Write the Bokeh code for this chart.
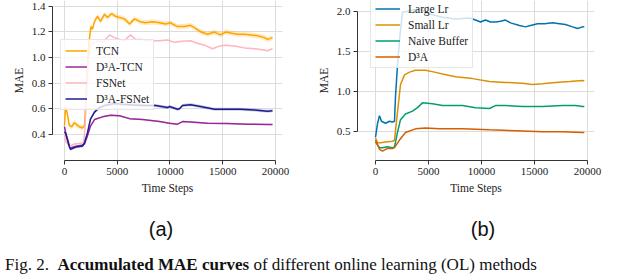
from bokeh.plotting import figure
from bokeh.layouts import column, row
from bokeh.models import Div, NumeralTickFormatter, FixedTicker
from bokeh.embed import file_html
from bokeh.resources import INLINE

# ---------------- data: panel (a) ----------------
tcn_x = [0, 100, 250, 450, 700, 900, 1100, 1400, 1700, 1900, 2100, 2300, 2500, 2654, 2844, 3128,
         3413, 3792, 4076, 4456, 4835, 5214, 5688, 6162, 6636, 7110, 7679, 8342, 9006, 9575, 10049,
         10238, 10712, 11376, 11945, 12419, 12893, 13556, 14220, 14789, 15263, 15737, 16400, 17064,
         17633, 18296, 18960, 19244, 19718]
tcn_y = [0.47, 0.61, 0.57, 0.47, 0.46, 0.49, 0.48, 0.46, 0.45, 0.47, 0.80, 1.10, 1.24, 1.22, 1.28,
         1.32, 1.28, 1.335, 1.31, 1.34, 1.32, 1.31, 1.30, 1.26, 1.30, 1.28, 1.27, 1.277, 1.27, 1.26,
         1.27, 1.26, 1.24, 1.24, 1.25, 1.226, 1.20, 1.18, 1.197, 1.175, 1.197, 1.19, 1.18, 1.18,
         1.175, 1.168, 1.154, 1.14, 1.154]
tcn_sd = 0.02

fsnet_x = [0, 150, 500, 760, 1040, 1420, 1800, 1950, 2100, 2300, 2500, 2844, 3318, 3602, 3887, 4266,
           4740, 5214, 5688, 5972, 6257, 6730, 7205, 8058, 9006, 9765, 10428, 11186, 11945, 12609,
           13272, 14030, 14694, 15263, 16116, 17064, 18012, 18770, 19244, 19718]
fsnet_y = [0.40, 0.34, 0.305, 0.32, 0.327, 0.33, 0.335, 0.45, 0.75, 1.00, 1.10, 1.117, 1.13, 1.117,
           1.14, 1.175, 1.154, 1.14, 1.13, 1.154, 1.175, 1.14, 1.14, 1.13, 1.13, 1.135, 1.117, 1.125,
           1.13, 1.11, 1.095, 1.067, 1.088, 1.095, 1.088, 1.074, 1.067, 1.06, 1.052, 1.067]
fsnet_sd = 0.006

d3a_fsnet_x = [0, 95, 474, 569, 948, 1232, 1706, 1896, 2180, 2465, 2844, 3318, 4000, 4700, 5500,
               6500, 7500, 8627, 9765, 9954, 10712, 10902, 11186, 11945, 12893, 14220, 15452,
               16685, 18012, 19244, 19718]
d3a_fsnet_y = [0.42, 0.41, 0.30, 0.284, 0.298, 0.305, 0.31, 0.335, 0.414, 0.52, 0.574, 0.61, 0.63,
               0.64, 0.635, 0.63, 0.625, 0.625, 0.61, 0.617, 0.596, 0.60, 0.625, 0.632, 0.617,
               0.596, 0.596, 0.596, 0.59, 0.58, 0.585]
d3a_fsnet_sd = 0.012

d3a_tcn_x = [0, 95, 474, 569, 948, 1232, 1706, 1896, 2180, 2465, 2844, 3602, 4361, 5214, 6162, 7394,
             9006, 9954, 10712, 11186, 11945, 13556, 15452, 17348, 19244, 19718]
d3a_tcn_y = [0.46, 0.42, 0.31, 0.295, 0.305, 0.31, 0.315, 0.325, 0.39, 0.465, 0.516, 0.537, 0.55,
             0.545, 0.523, 0.516, 0.50, 0.487, 0.48, 0.50, 0.497, 0.487, 0.485, 0.48, 0.478, 0.478]
d3a_tcn_sd = 0.006

# ---------------- data: panel (b) ----------------
large_x = [0, 189, 377, 566, 943, 1321, 1604, 1792, 1887, 2075, 2300, 2547, 3490, 4245, 5094, 6321,
           7547, 8868, 9434, 9906, 10377, 10849, 11321, 11792, 12264, 12736, 13585, 14151, 14623,
           15283, 15943, 16698, 17358, 17924, 18585, 19057, 19528, 19700]
large_y = [0.43, 0.60, 0.70, 0.63, 0.605, 0.63, 0.62, 0.63, 0.94, 1.33, 1.70, 1.99, 2.02, 2.03, 1.97,
           1.93, 1.907, 1.92, 1.895, 1.87, 1.895, 1.87, 1.87, 1.88, 1.895, 1.86, 1.826, 1.81, 1.826,
           1.85, 1.85, 1.86, 1.85, 1.84, 1.81, 1.79, 1.81, 1.81]

small_x = [0, 189, 472, 943, 1604, 1792, 2075, 2359, 2736, 3208, 3774, 4717, 5566, 6321, 7547, 9151,
           10755, 12264, 13868, 14811, 15755, 16981, 18302, 19528, 19700]
small_y = [0.42, 0.36, 0.36, 0.37, 0.38, 0.395, 0.745, 1.09, 1.21, 1.244, 1.267, 1.267, 1.244, 1.22,
           1.186, 1.163, 1.128, 1.116, 1.105, 1.09, 1.10, 1.116, 1.128, 1.14, 1.135]

naive_x = [0, 377, 660, 1132, 1604, 1792, 2075, 2359, 2830, 3491, 3962, 4434, 5377, 6321, 7264, 8208,
           9434, 10755, 11321, 12264, 13868, 15755, 17642, 18868, 19528, 19700]
naive_y = [0.37, 0.30, 0.30, 0.31, 0.30, 0.31, 0.49, 0.65, 0.72, 0.756, 0.80, 0.86, 0.85, 0.826,
           0.826, 0.826, 0.80, 0.79, 0.826, 0.826, 0.814, 0.814, 0.826, 0.826, 0.814, 0.815]

d3a_x = [0, 377, 660, 1132, 1604, 1792, 2264, 2830, 3774, 4717, 6038, 8208, 10755, 13208, 15755,
         17642, 19528, 19700]
d3a_y = [0.395, 0.28, 0.256, 0.29, 0.29, 0.30, 0.395, 0.49, 0.535, 0.547, 0.535, 0.535, 0.523,
         0.512, 0.50, 0.50, 0.488, 0.49]

x_ticks = [0, 5000, 10000, 15000, 20000]
a_y_ticks = [0.4, 0.6, 0.8, 1.0, 1.2, 1.4]
b_y_ticks = [0.5, 1.0, 1.5, 2.0]

SERIF = "Liberation Serif"


def style(p, yticks):
    p.outline_line_color = None
    p.background_fill_color = "white"
    p.border_fill_color = "white"
    p.xgrid.ticker = FixedTicker(ticks=x_ticks)
    p.ygrid.ticker = FixedTicker(ticks=yticks)
    for g in (p.xgrid[0], p.ygrid[0]):
        g.grid_line_color = "#dcdcdc"
        g.grid_line_width = 1
    p.xaxis.ticker = FixedTicker(ticks=x_ticks)
    p.yaxis.ticker = FixedTicker(ticks=yticks)
    p.xaxis.bounds = (x_ticks[0], x_ticks[-1])
    p.yaxis.bounds = (yticks[0], yticks[-1])
    p.xaxis.formatter = NumeralTickFormatter(format="0")
    p.yaxis.formatter = NumeralTickFormatter(format="0.0")
    for ax in (p.xaxis[0], p.yaxis[0]):
        ax.axis_line_color = "#333333"
        ax.major_tick_line_color = "#333333"
        ax.major_tick_out = 4
        ax.major_tick_in = 0
        ax.minor_tick_line_color = None
        ax.major_label_text_font = SERIF
        ax.major_label_text_font_size = "11px"
        ax.major_label_text_color = "#222222"
        ax.major_label_standoff = 3
        ax.axis_label_text_font = SERIF
        ax.axis_label_text_font_size = "11.5px"
        ax.axis_label_text_font_style = "normal"
        ax.axis_label_text_color = "#222222"
        ax.axis_label_standoff = 4
    p.xaxis.axis_label = "Time Steps"
    p.yaxis.axis_label = "MAE"


def style_legend(p, loc, glyph_w, standoff):
    lg = p.legend[0]
    lg.location = loc
    lg.label_text_font = SERIF
    lg.label_text_font_size = "11.5px"
    lg.label_text_color = "#222222"
    lg.glyph_width = glyph_w
    lg.glyph_height = 13
    lg.label_height = 13
    lg.label_standoff = standoff
    lg.spacing = 3
    lg.padding = 4
    lg.margin = 0
    lg.border_line_color = "#d0d0d0"
    lg.border_line_width = 1
    lg.background_fill_color = "white"
    lg.background_fill_alpha = 0.8


# ---------------- panel (a) ----------------
pa = figure(width=312, height=196, output_backend="svg", toolbar_location=None,
            x_range=(-1137, 20664), y_range=(0.197, 1.443),
            min_border_left=52, min_border_right=30, min_border_top=0, min_border_bottom=32)
style(pa, a_y_ticks)

series_a = [
    (tcn_x, tcn_y, tcn_sd, "#FFA500", "TCN"),
    (d3a_tcn_x, d3a_tcn_y, d3a_tcn_sd, "#98289A", "D\u00b3A-TCN"),
    (fsnet_x, fsnet_y, fsnet_sd, "#FFB6C1", "FSNet"),
    (d3a_fsnet_x, d3a_fsnet_y, d3a_fsnet_sd, "#1C1C8E", "D\u00b3A-FSNet"),
]
for xs, ys, sd, col, lab in series_a:
    pa.varea(x=xs, y1=[v - sd for v in ys], y2=[v + sd for v in ys],
             fill_color=col, fill_alpha=0.22)
for xs, ys, sd, col, lab in series_a:
    pa.line(xs, ys, line_color=col, line_width=1.5, legend_label=lab)
style_legend(pa, (8, 50), 22, 9)

# ---------------- panel (b) ----------------
pb = figure(width=312, height=196, output_backend="svg", toolbar_location=None,
            x_range=(-1698, 20660), y_range=(0.1395, 2.1395),
            min_border_left=45, min_border_right=30, min_border_top=0, min_border_bottom=32)
style(pb, b_y_ticks)

series_b = [
    (large_x, large_y, "#0173B2", "Large Lr"),
    (small_x, small_y, "#DE8F05", "Small Lr"),
    (naive_x, naive_y, "#029E73", "Naive Buffer"),
    (d3a_x, d3a_y, "#D55E00", "D\u00b3A"),
]
for xs, ys, col, lab in series_b:
    pb.line(xs, ys, line_color=col, line_width=1.5, legend_label=lab)
style_legend(pb, (13, 92), 25, 8)

# ---------------- labels and caption ----------------
lab_style = {"font-family": "Liberation Sans", "font-size": "20px", "text-align": "center",
             "line-height": "24px", "padding-top": "16px", "color": "#111111"}
diva = Div(text="(a)", width=312, height=44, styles=lab_style)
divb = Div(text="(b)", width=312, height=44, styles=lab_style)
cap = Div(text="Fig. 2.&nbsp; <b>Accumulated MAE curves</b> of different online learning (OL) methods",
          width=624, height=22,
          styles={"font-family": "Liberation Serif", "font-size": "17px", "line-height": "20px",
                  "white-space": "nowrap", "color": "#111111"})

layout = column(row(pa, pb), row(diva, divb), cap)

open("out.html", "w").write(file_html(layout, INLINE))
